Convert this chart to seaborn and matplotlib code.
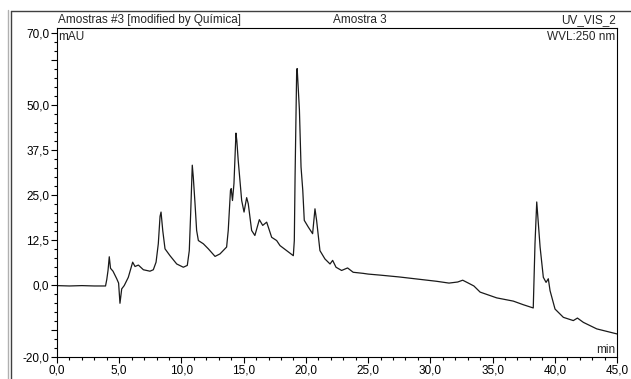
import matplotlib
matplotlib.use("Agg")
import matplotlib.pyplot as plt
from matplotlib.lines import Line2D
from matplotlib.ticker import MultipleLocator, FixedLocator, FixedFormatter
import seaborn as sns
import pandas as pd

# retention time (min)
time_min = [0.0, 1.0, 2.0, 3.0, 3.9, 4.0, 4.1, 4.2, 4.3, 4.5,
            4.8, 4.95, 5.06, 5.2, 5.4, 5.73, 6.08, 6.27, 6.54, 6.94,
            7.47, 7.74, 7.96, 8.14, 8.28, 8.36, 8.5, 8.68, 9.08, 9.62,
            10.15, 10.47, 10.63, 10.74, 10.87, 10.95, 11.09, 11.22, 11.36, 11.76,
            12.16, 12.7, 13.1, 13.63, 13.76, 13.94, 14.0, 14.1, 14.22, 14.38,
            14.45, 14.56, 14.84, 15.03, 15.24, 15.37, 15.64, 15.9, 16.26, 16.53,
            16.85, 17.25, 17.65, 17.92, 18.99, 19.07, 19.13, 19.26, 19.3, 19.48,
            19.61, 19.75, 19.87, 20.2, 20.54, 20.73, 20.86, 21.13, 21.53, 21.94,
            22.15, 22.42, 22.87, 23.35, 23.8, 24.6, 25.0, 26.0, 27.5, 29.0,
            30.5, 31.5, 32.2, 32.6, 33.0, 33.5, 34.0, 35.33, 36.67, 37.47,
            38.27, 38.41, 38.55, 38.68, 38.82, 39.08, 39.3, 39.48, 39.62, 40.02,
            40.69, 41.49, 41.82, 42.3, 43.37, 45.0]
# absorbance (mAU)
absorb_mau = [-0.2, -0.3, -0.2, -0.3, -0.3, 1.5, 4.0, 7.8, 4.6, 3.8,
              1.7, 0.5, -5.1, -1.1, -0.2, 2.1, 6.3, 5.1, 5.5, 4.2,
              3.8, 4.2, 6.3, 11.4, 19.0, 20.2, 15.0, 10.0, 8.1, 5.8,
              4.9, 5.4, 9.5, 19.7, 33.2, 30.0, 22.6, 15.1, 12.3, 11.4,
              10.0, 7.9, 8.6, 10.5, 15.1, 26.2, 26.7, 23.4, 28.1, 42.1,
              40.0, 34.6, 23.4, 20.2, 24.2, 22.5, 15.1, 13.7, 18.1, 16.5,
              17.4, 13.2, 12.3, 10.9, 8.1, 12.3, 29.9, 59.6, 60.0, 48.5,
              32.7, 26.2, 17.9, 16.0, 14.2, 21.1, 17.9, 9.5, 7.2, 5.8,
              6.8, 4.9, 4.0, 4.7, 3.5, 3.2, 3.0, 2.7, 2.2, 1.6,
              1.0, 0.5, 0.8, 1.3, 0.6, -0.3, -2.0, -3.6, -4.5, -5.5,
              -6.4, 11.4, 23.0, 17.0, 10.5, 2.1, 0.7, 1.7, -1.6, -6.7,
              -9.0, -9.9, -9.2, -10.4, -12.2, -13.6]

y_major = [-20.0, -12.5, 0.0, 12.5, 25.0, 37.5, 50.0, 62.5, 70.0]
y_labels = ["-20,0", "", "0,0", "12,5", "25,0", "37,5", "50,0", "", "70,0"]
x_major = [0, 5, 10, 15, 20, 25, 30, 35, 40, 45]
x_labels = ["0,0", "5,0", "10,0", "15,0", "20,0", "25,0", "30,0", "35,0", "40,0", "45,0"]

df = pd.DataFrame({"t": time_min, "a": absorb_mau})

sns.set_style("ticks")
plt.rcParams["font.family"] = ["Liberation Sans", "DejaVu Sans"]
FS = 8.5

W, H = 631, 379
fig = plt.figure(figsize=(W / 100, H / 100), dpi=100)
ax = fig.add_axes([57 / W, 22 / H, 560 / W, 329 / H])

sns.lineplot(data=df, x="t", y="a", ax=ax, color="#1a1a1a", linewidth=0.9)

ax.set_xlim(0, 45)
ax.set_ylim(-20, 71.25)
ax.set_xlabel("")
ax.set_ylabel("")

ax.yaxis.set_major_locator(FixedLocator(y_major))
ax.yaxis.set_major_formatter(FixedFormatter(y_labels))
ax.yaxis.set_minor_locator(MultipleLocator(2.5))
ax.xaxis.set_major_locator(FixedLocator(x_major))
ax.xaxis.set_major_formatter(FixedFormatter(x_labels))
ax.xaxis.set_minor_locator(MultipleLocator(1))

ax.tick_params(which="major", direction="out", length=4, width=0.8, color="black",
               labelsize=FS, pad=1.5, labelcolor="black")
ax.tick_params(which="minor", direction="out", length=2.2, width=0.8, color="black")
for s in ax.spines.values():
    s.set_visible(True)
    s.set_color("black")
    s.set_linewidth(0.8)

def px(x, y):
    return x / W, 1 - y / H

fig.text(*px(58, 20), "Amostras #3 [modified by Química]", fontsize=FS, ha="left", va="center")
fig.text(*px(333, 20), "Amostra 3", fontsize=FS, ha="left", va="center")
fig.text(*px(616, 20), "UV_VIS_2", fontsize=FS, ha="right", va="center")
fig.text(*px(58, 37), "mAU", fontsize=FS, ha="left", va="center")
fig.text(*px(615, 37), "WVL:250 nm", fontsize=FS, ha="right", va="center")
fig.text(*px(615, 350), "min", fontsize=FS, ha="right", va="center")

# outer window frame
fig.add_artist(Line2D([7.5 / W, 7.5 / W], [0, 1 - 10 / H], transform=fig.transFigure,
                      color="#b0b0b0", lw=1))
fig.add_artist(Line2D([10.5 / W, 10.5 / W], [0, 1 - 10.5 / H], transform=fig.transFigure,
                      color="#404040", lw=1))
fig.add_artist(Line2D([10.5 / W, 1], [1 - 10.5 / H, 1 - 10.5 / H], transform=fig.transFigure,
                      color="#404040", lw=1))

fig.savefig("out.png", dpi=100)
